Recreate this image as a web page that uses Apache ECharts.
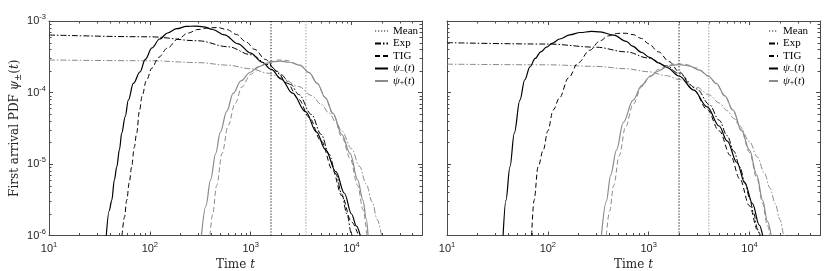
<!DOCTYPE html>
<html><head><meta charset="utf-8">
<script src="https://cdn.jsdelivr.net/npm/echarts@6/dist/echarts.min.js"></script>
<style>html,body{margin:0;padding:0;background:#fff}#c{width:830px;height:271px}</style>
</head><body><div id="c"></div>
<script>
// ---------- tick labels ----------
const xTickExp = [1, 2, 3, 4];
const yTickExp = [-6, -5, -4, -3];
const xRange = [10, 50000];
const yRange = [1e-6, 1e-3];

// ---------- panel A (left) ----------
const meanA = [1590, 3530]; // mean of psi-, psi+
const expMinusA = [[10,6.37e-4],[100,6.01e-4],[300,5.29e-4],[600,4.36e-4],[1000,3.38e-4],[1500,2.45e-4],[2000,1.78e-4],[2500,1.29e-4],[3000,9.37e-5],[4000,4.94e-5],[5000,2.60e-5],[6000,1.37e-5],[7000,7.21e-6],[8000,3.80e-6],[9000,2.00e-6],[10000,1.05e-6],[10500,7.6e-7]];
const expPlusA = [[10,2.85e-4],[100,2.78e-4],[300,2.62e-4],[600,2.41e-4],[1000,2.15e-4],[1500,1.86e-4],[2000,1.61e-4],[3000,1.21e-4],[4000,9.11e-5],[5000,6.85e-5],[6000,5.15e-5],[7000,3.87e-5],[8000,2.91e-5],[10000,1.64e-5],[12000,9.27e-6],[14000,5.23e-6],[16000,2.96e-6],[18000,1.67e-6],[20000,9.4e-7]];
const psiMinusA = [[37,1e-6],[39.5,2.2e-6],[41.9,3.1e-6],[44.5,6e-6],[47,9.1e-6],[50,1.6e-5],[52.6,2.7e-5],[57,4.6e-5],[61.2,7.8e-5],[68.6,1.34e-4],[80,1.94e-4],[90,2.9e-4],[105,4.2e-4],[125,5.6e-4],[150,6.8e-4],[185,7.8e-4],[230,8.4e-4],[280,8.5e-4],[340,8.3e-4],[420,7.6e-4],[550,6.4e-4],[750,4.8e-4],[1000,3.55e-4],[1300,2.65e-4],[1600,2.1e-4],[2000,1.55e-4],[2600,9.8e-5],[3500,5.4e-5],[4500,2.8e-5],[5500,1.6e-5],[7000,7.8e-6],[8500,3.9e-6],[10000,2.0e-6],[11200,1.35e-6],[12200,1e-6]];
const tigMinusA = [[53,1e-6],[56,1.8e-6],[59,3.1e-6],[62.5,5.5e-6],[66,9.1e-6],[70,1.7e-5],[74,2.7e-5],[78.8,5.5e-5],[84,9e-5],[92,1.45e-4],[105,2.2e-4],[122,3.1e-4],[150,4.2e-4],[190,5.6e-4],[240,6.8e-4],[300,7.6e-4],[380,8.0e-4],[470,8.1e-4],[580,7.6e-4],[720,6.5e-4],[900,5.1e-4],[1100,4.0e-4],[1400,2.9e-4],[1800,2.0e-4],[2300,1.35e-4],[3000,8.0e-5],[3800,4.5e-5],[5000,2.1e-5],[6500,8.2e-6],[8000,3.6e-6],[10000,1.55e-6],[11700,1e-6]];
const psiPlusA = [[325,1e-6],[360,2.6e-6],[400,6e-6],[450,1.4e-5],[500,2.8e-5],[580,5.5e-5],[670,9.7e-5],[800,1.45e-4],[990,1.92e-4],[1200,2.3e-4],[1450,2.57e-4],[1700,2.7e-4],[1960,2.75e-4],[2400,2.65e-4],[3100,2.4e-4],[3800,1.9e-4],[4560,1.35e-4],[5500,8.5e-5],[6560,5.1e-5],[8000,2.6e-5],[9700,1.4e-5],[11500,6e-6],[13000,3.1e-6],[14000,1.7e-6],[14600,1e-6]];
const tigPlusA = [[395,1e-6],[420,2e-6],[460,5e-6],[520,1.4e-5],[600,3.5e-5],[700,7e-5],[820,1.2e-4],[1000,1.8e-4],[1250,2.35e-4],[1550,2.7e-4],[1900,2.85e-4],[2300,2.8e-4],[3000,2.45e-4],[3800,1.9e-4],[4600,1.33e-4],[5500,8.4e-5],[6600,4.9e-5],[8000,2.4e-5],[9700,1.2e-5],[11500,5e-6],[13000,2.3e-6],[14200,1e-6]];

// ---------- panel B (right) ----------
const meanB = [2000, 3950];
const expMinusB = [[10,4.98e-4],[100,4.76e-4],[300,4.30e-4],[600,3.70e-4],[1000,3.03e-4],[1500,2.36e-4],[2000,1.84e-4],[3000,1.12e-4],[4000,6.77e-5],[5000,4.10e-5],[6000,2.49e-5],[7000,1.51e-5],[8000,9.16e-6],[9000,5.55e-6],[10000,3.37e-6],[11000,2.04e-6],[12000,1.24e-6],[13000,7.5e-7]];
const expPlusB = [[10,2.49e-4],[100,2.44e-4],[300,2.32e-4],[600,2.15e-4],[1000,1.95e-4],[1500,1.72e-4],[2000,1.52e-4],[3000,1.18e-4],[4000,9.20e-5],[5000,7.16e-5],[6000,5.58e-5],[7000,4.34e-5],[8000,3.38e-5],[10000,2.05e-5],[12000,1.245e-5],[14000,7.55e-6],[16000,4.58e-6],[18000,2.78e-6],[20000,1.68e-6],[22000,1.02e-6],[23000,8e-7]];
const psiMinusB = [[36,1e-6],[38.4,3.1e-6],[42.1,9.1e-6],[46.5,2.7e-5],[52.8,7.8e-5],[59,1.5e-4],[66.4,2.28e-4],[75,3.0e-4],[85,3.7e-4],[97,4.3e-4],[110,4.85e-4],[131,5.6e-4],[165,6.4e-4],[210,6.9e-4],[270,7.15e-4],[330,7.05e-4],[450,6.35e-4],[600,5.2e-4],[690,4.45e-4],[850,3.65e-4],[1020,3.1e-4],[1250,2.6e-4],[1510,2.25e-4],[2000,1.7e-4],[2800,1.08e-4],[3800,6.3e-5],[5000,3.4e-5],[6000,2.1e-5],[7500,1.05e-5],[9000,5.4e-6],[10700,2.8e-6],[12500,1.4e-6],[13500,1e-6]];
const tigMinusB = [[69,1e-6],[73,3.1e-6],[80,9.1e-6],[90,1.56e-5],[100,2.9e-5],[113,5.7e-5],[131,8.5e-5],[160,1.6e-4],[200,2.6e-4],[260,3.9e-4],[330,5.3e-4],[400,6.2e-4],[490,6.7e-4],[580,6.75e-4],[700,6.45e-4],[850,5.7e-4],[1000,4.8e-4],[1250,3.7e-4],[1600,2.7e-4],[2000,1.95e-4],[2800,1.08e-4],[3800,5.8e-5],[5000,2.9e-5],[6500,1.3e-5],[8000,6.2e-6],[10000,2.6e-6],[12000,1.2e-6],[12800,1e-6]];
const psiPlusB = [[340,1e-6],[380,3e-6],[420,7e-6],[479,1.56e-5],[560,3.8e-5],[700,7.8e-5],[850,1.25e-4],[1023,1.66e-4],[1250,2.0e-4],[1500,2.28e-4],[1750,2.42e-4],[2030,2.46e-4],[2500,2.35e-4],[3200,2.05e-4],[3900,1.7e-4],[4680,1.34e-4],[5700,9e-5],[6840,5.7e-5],[8300,3e-5],[10000,1.56e-5],[11800,7e-6],[13500,3.1e-6],[15000,1.6e-6],[16400,1e-6]];
const tigPlusB = [[380,1e-6],[410,2.2e-6],[450,5e-6],[510,1.3e-5],[590,3.3e-5],[700,6.8e-5],[850,1.2e-4],[1030,1.7e-4],[1250,2.1e-4],[1550,2.4e-4],[1900,2.52e-4],[2300,2.48e-4],[3000,2.2e-4],[3900,1.7e-4],[4700,1.32e-4],[5700,8.8e-5],[6900,5.5e-5],[8300,2.9e-5],[10000,1.45e-5],[11800,6.4e-6],[13500,2.8e-6],[15000,1.4e-6],[16000,1e-6]];

// ---------- styling ----------
const BLACK = '#000000', GREY = '#8a8a8a', AX = '#4a4a4a';
const DASH = [5, 3], DASHDOT = [6, 2, 1.5, 2], DOT = [1.2, 1.8];
const SERIF = 'Liberation Serif', WSERIF = 'DejaVu Serif', SANS = 'Liberation Sans';

const chart = echarts.init(document.getElementById('c'), null, {renderer: 'canvas'});

function tickFmt(exps) {
  return function (v) {
    const e = Math.round(Math.log10(v));
    if (exps.indexOf(e) < 0 || Math.abs(v / Math.pow(10, e) - 1) > 1e-6) return '';
    return '{b|10}{s|' + e + '}';
  };
}
const labelRich = {
  b: {fontFamily: SANS, fontSize: 11, color: '#262626', lineHeight: 16},
  s: {fontFamily: SANS, fontSize: 7.5, color: '#262626', lineHeight: 8, verticalAlign: 'top'}
};
const nameRich = {
  n: {fontFamily: WSERIF, fontSize: 12, color: '#262626', lineHeight: 16},
  i: {fontFamily: WSERIF, fontStyle: 'italic', fontSize: 12, color: '#262626', lineHeight: 16},
  sb: {fontFamily: WSERIF, fontSize: 8.5, color: '#262626', lineHeight: 9, verticalAlign: 'bottom'}
};

const grids = [
  {left: 49, top: 21, width: 373, height: 214.5},
  {left: 447, top: 21, width: 373, height: 214.5}
];

const xAxes = [], yAxes = [];
grids.forEach(function (g, gi) {
  const baseX = {type: 'log', logBase: 10, min: xRange[0], max: xRange[1], gridIndex: gi,
    axisLine: {show: true, lineStyle: {color: AX, width: 1}},
    axisTick: {show: true, inside: true, length: 4, lineStyle: {color: AX}},
    splitLine: {show: false}, minorTick: {show: false}};
  xAxes.push(Object.assign({}, baseX, {position: 'bottom',
    axisLabel: {show: true, margin: 5, formatter: tickFmt(xTickExp), rich: labelRich},
    name: '{n|Time }{i|t}', nameLocation: 'middle', nameGap: 16, nameTextStyle: {rich: nameRich}}));
  xAxes.push(Object.assign({}, baseX, {position: 'top', axisLabel: {show: false}}));
  const baseY = {type: 'log', logBase: 10, min: yRange[0], max: yRange[1], gridIndex: gi,
    axisLine: {show: true, lineStyle: {color: AX, width: 1}},
    axisTick: {show: true, inside: true, length: 4, lineStyle: {color: AX}},
    splitLine: {show: false}, minorTick: {show: false}};
  yAxes.push(Object.assign({}, baseY, {position: 'left',
    axisLabel: {show: gi === 0, margin: 3, formatter: tickFmt(yTickExp), rich: labelRich},
    name: gi === 0 ? '{n|First arrival PDF }{i|ψ}{sb|±}{n|(}{i|t}{n|)}' : '',
    nameLocation: 'middle', nameGap: 22, nameTextStyle: {rich: nameRich}}));
  yAxes.push(Object.assign({}, baseY, {position: 'right', axisLabel: {show: false}}));
});

// minor tick decorations (2..9 x 10^k) drawn through the axes' scales
const minorData = [];
for (let k = 1; k <= 4; k++) for (let m = 2; m <= 9; m++) { const v = m * Math.pow(10, k); if (v < xRange[1]) minorData.push([v, yRange[0], 0]); }
for (let k = -6; k <= -4; k++) for (let m = 2; m <= 9; m++) minorData.push([xRange[0], m * Math.pow(10, k), 1]);

function minorSeries(gi) {
  return {
    type: 'custom', name: 'minor' + gi, xAxisIndex: gi * 2, yAxisIndex: gi * 2, silent: true, clip: false, z: 10,
    data: minorData,
    renderItem: function (params, api) {
      const p = api.coord([api.value(0), api.value(1)]);
      const cs = params.coordSys; const L = 2.5;
      const st = {stroke: AX, lineWidth: 1};
      if (api.value(2) === 0) {
        const x = Math.round(p[0]) + 0.5;
        return {type: 'group', children: [
          {type: 'line', shape: {x1: x, y1: cs.y + cs.height, x2: x, y2: cs.y + cs.height - L}, style: st},
          {type: 'line', shape: {x1: x, y1: cs.y, x2: x, y2: cs.y + L}, style: st}]};
      }
      const y = Math.round(p[1]) + 0.5;
      return {type: 'group', children: [
        {type: 'line', shape: {x1: cs.x, y1: y, x2: cs.x + L, y2: y}, style: st},
        {type: 'line', shape: {x1: cs.x + cs.width, y1: y, x2: cs.x + cs.width - L, y2: y}, style: st}]};
    }
  };
}

function line(name, data, gi, color, type, width, z) {
  return {type: 'line', name: name, data: data, xAxisIndex: gi * 2, yAxisIndex: gi * 2,
    symbol: 'none', smooth: 0.35, smoothMonotone: 'x', clip: true, silent: true, z: z || 2,
    lineStyle: {color: color, type: type, width: width}, itemStyle: {color: color}};
}
function meanLine(name, m, gi, color) {
  return line(name, [[m, yRange[0]], [m, yRange[1]]], gi, color, DOT, 1, 1);
}

const panels = [
  {mean: meanA, em: expMinusA, ep: expPlusA, pm: psiMinusA, tm: tigMinusA, pp: psiPlusA, tp: tigPlusA},
  {mean: meanB, em: expMinusB, ep: expPlusB, pm: psiMinusB, tm: tigMinusB, pp: psiPlusB, tp: tigPlusB}
];
const series = [];
panels.forEach(function (P, gi) {
  series.push(meanLine('Mean', P.mean[1], gi, GREY));
  series.push(meanLine('Mean-' + gi, P.mean[0], gi, BLACK));
  series.push(line('Exp', P.em, gi, BLACK, DASHDOT, 1));
  series.push(line('Exp+' + gi, P.ep, gi, GREY, DASHDOT, 1));
  series.push(line('TIG', P.tm, gi, BLACK, DASH, 1));
  series.push(line('TIG+' + gi, P.tp, gi, GREY, DASH, 1));
  series.push(line('psiM', P.pm, gi, BLACK, 'solid', 1.2, 3));
  series.push(line('psiP', P.pp, gi, GREY, 'solid', 1.2, 3));
  series.push(minorSeries(gi));
});

const legendNames = ['Mean', 'Exp', 'TIG', 'psiM', 'psiP'];
const legendRich = {
  i: {fontFamily: SERIF, fontStyle: 'italic', fontSize: 11, color: '#000', lineHeight: 12},
  n: {fontFamily: SERIF, fontSize: 11, color: '#000', lineHeight: 12},
  sb: {fontFamily: SERIF, fontSize: 8, color: '#000', lineHeight: 7, verticalAlign: 'bottom'}
};
function legendFmt(n) {
  if (n === 'psiM') return '{i|ψ}{sb|−}{n|(}{i|t}{n|)}';
  if (n === 'psiP') return '{i|ψ}{sb|+}{n|(}{i|t}{n|)}';
  return '{n|' + n + '}';
}
function legend(left, iw) {
  return {show: true, orient: 'vertical', left: left, top: 25, itemWidth: iw, itemHeight: 12, itemGap: 0.5,
    padding: 0, selectedMode: false, data: legendNames, formatter: legendFmt,
    itemStyle: {opacity: 0, borderWidth: 0},
    textStyle: {fontFamily: SERIF, fontSize: 11, color: '#000', lineHeight: 12, rich: legendRich}};
}

chart.setOption({
  animation: false,
  backgroundColor: '#ffffff',
  grid: grids.map(function (g) { return Object.assign({containLabel: false, outerBoundsMode: 'none'}, g); }),
  xAxis: xAxes,
  yAxis: yAxes,
  legend: [legend(374, 13), legend(768, 9)],
  series: series
});
</script></body></html>
